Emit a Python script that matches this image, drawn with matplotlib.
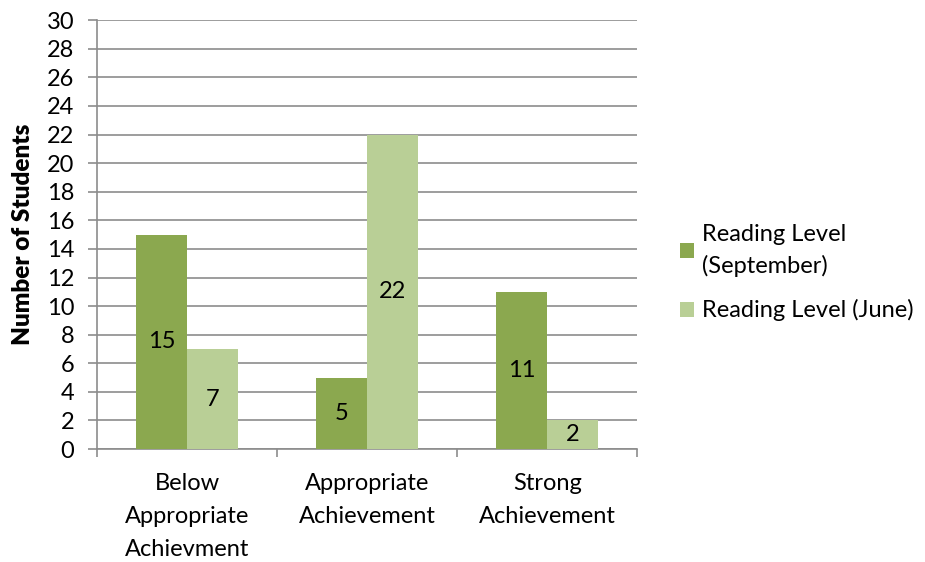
import matplotlib.pyplot as plt
import numpy as np

plt.rcParams['font.family'] = ['Lato', 'DejaVu Sans']

categories = ["Below\nAppropriate\nAchievment", "Appropriate\nAchievement", "Strong\nAchievement"]
september = [15, 5, 11]
june = [7, 22, 2]
yticks = list(range(0, 31, 2))

dark = '#8BA84F'
light = '#B9CF96'
grid = '#8C8C8C'
fs = 17

fig = plt.figure(figsize=(9.25, 5.62), dpi=100)
ax = fig.add_axes([0.105, 0.201, 0.584, 0.763])

x = np.arange(len(categories))
w = 0.283
b1 = ax.bar(x - w / 2, september, w, color=dark, label='Reading Level\n(September)', zorder=3)
b2 = ax.bar(x + w / 2, june, w, color=light, label='Reading Level (June)', zorder=3)

for bars in (b1, b2):
    for r in bars:
        h = r.get_height()
        ax.text(r.get_x() + r.get_width() / 2, h / 2, f"{h:g}", ha='center', va='center',
                fontsize=fs, zorder=4)

ax.set_xlim(-0.5, 2.5)
ax.set_ylim(0, 30)
ax.set_yticks(yticks)
ax.tick_params(axis='y', labelsize=fs, length=6.5, color=grid, width=1.2, pad=10)
ax.yaxis.grid(True, color=grid, linewidth=1.2, zorder=0)

ax.set_xticks(x)
ax.set_xticklabels(categories, fontsize=fs, linespacing=1.72)
ax.tick_params(axis='x', length=0, pad=17)
ax.set_xticks([-0.5, 0.5, 1.5, 2.5], minor=True)
ax.tick_params(axis='x', which='minor', length=6, color=grid, width=1.2)

for s in ('top', 'right'):
    ax.spines[s].set_visible(False)
for s in ('left', 'bottom'):
    ax.spines[s].set_color(grid)
    ax.spines[s].set_linewidth(1.2)

ax.set_ylabel('Number of Students', fontsize=fs + 0.5, fontweight='heavy', labelpad=9)

leg = ax.legend(loc='center left', bbox_to_anchor=(0.735, 0.515), bbox_transform=fig.transFigure,
                frameon=False, fontsize=fs, borderpad=0, borderaxespad=0,
                handlelength=0.6, handleheight=0.6, handletextpad=0.35, labelspacing=0.95)
for t in leg.get_texts():
    t.set_linespacing(1.55)

fig.savefig('out.png', dpi=100)
